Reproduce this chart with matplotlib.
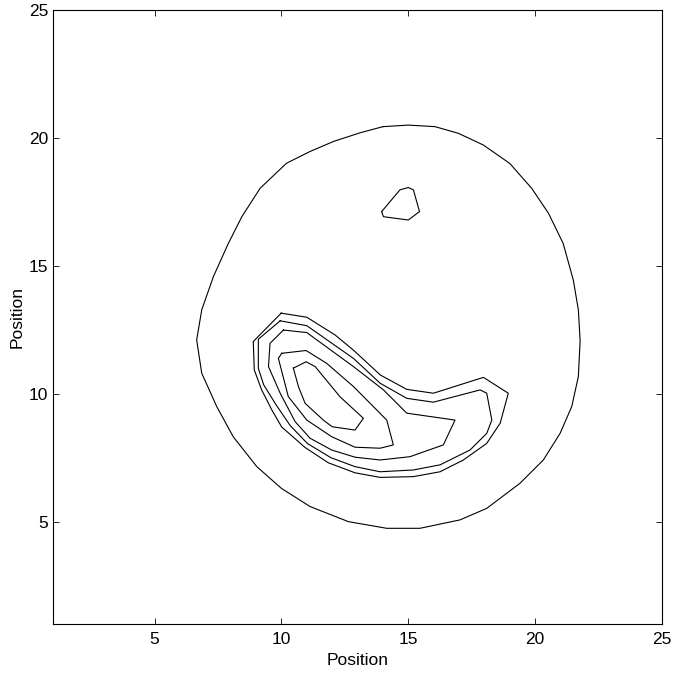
import matplotlib

matplotlib.use("Agg")
import matplotlib.pyplot as plt

# contour level paths (x, y) in grid units
outer_x = [14.0, 15.0, 16.05, 16.97, 17.96, 19.0, 19.86, 20.52, 21.1, 21.5, 21.7, 21.77, 21.7, 21.44,
           20.98, 20.32, 19.4, 18.09, 17.04, 15.46, 14.15, 12.64, 11.13, 10.0, 9.03, 8.1, 7.45, 6.86,
           6.66, 6.86, 7.32, 7.91, 8.44, 9.16, 10.2, 11.13, 12.05, 13.1, 14.0]
outer_y = [20.44, 20.5, 20.44, 20.18, 19.72, 19.0, 18.03, 17.06, 15.88, 14.45, 13.28, 12.08, 10.67, 9.5,
           8.45, 7.41, 6.5, 5.52, 5.07, 4.74, 4.74, 5.0, 5.59, 6.3, 7.15, 8.32, 9.5, 10.8,
           12.1, 13.28, 14.58, 15.88, 16.92, 18.03, 19.01, 19.47, 19.86, 20.2, 20.44]

peak_x = [13.95, 14.67, 15.0, 15.2, 15.44, 15.0, 14.02, 13.95]
peak_y = [17.12, 17.97, 18.06, 17.97, 17.12, 16.79, 16.92, 17.12]

band1_x = [9.99, 11.0, 12.11, 12.83, 13.9, 14.94, 15.99, 17.96, 18.94, 18.62, 18.09, 17.17, 16.25,
           15.2, 13.89, 12.9, 11.85, 10.93, 10.01, 9.62, 9.22, 8.93, 8.89, 9.99]
band1_y = [13.15, 12.99, 12.3, 11.71, 10.73, 10.17, 10.02, 10.64, 10.02, 8.85, 8.06, 7.41, 6.95,
           6.76, 6.73, 6.91, 7.3, 7.9, 8.7, 9.37, 10.15, 10.93, 12.04, 13.15]

band2_x = [9.95, 11.0, 12.84, 13.89, 14.94, 15.99, 17.83, 18.09, 18.29, 18.09, 17.43, 16.25, 15.2,
           13.89, 12.9, 11.95, 11.03, 10.35, 9.8, 9.3, 9.09, 9.09, 9.95]
band2_y = [12.85, 12.66, 11.38, 10.41, 9.82, 9.67, 10.15, 10.02, 8.97, 8.45, 7.8, 7.22, 7.02,
           6.95, 7.15, 7.5, 8.05, 8.75, 9.55, 10.35, 10.99, 12.13, 12.85]

band3_x = [10.08, 11.0, 12.84, 14.02, 14.94, 16.84, 16.38, 15.07, 13.89, 12.9, 11.98, 11.13, 10.54,
           9.95, 9.49, 9.55, 10.08]
band3_y = [12.49, 12.39, 11.06, 10.15, 9.24, 8.97, 8.0, 7.54, 7.41, 7.52, 7.8, 8.26, 8.91,
           10.02, 11.06, 11.97, 12.49]

band4_x = [10.01, 10.97, 11.78, 12.84, 14.15, 14.41, 13.89, 12.9, 11.98, 11.0, 10.27, 9.88, 10.01]
band4_y = [11.58, 11.69, 11.19, 10.28, 8.97, 8.0, 7.87, 7.91, 8.32, 8.97, 9.89, 11.38, 11.58]

band5_x = [10.47, 10.97, 11.33, 12.31, 13.23, 12.9, 12.0, 11.65, 10.93, 10.67, 10.47]
band5_y = [11.0, 11.25, 11.06, 9.88, 9.04, 8.58, 8.71, 8.97, 9.63, 10.28, 11.0]

paths = [
    (outer_x, outer_y),
    (peak_x, peak_y),
    (band1_x, band1_y),
    (band2_x, band2_y),
    (band3_x, band3_y),
    (band4_x, band4_y),
    (band5_x, band5_y),
]

plt.rcParams["font.family"] = ["Liberation Sans", "DejaVu Sans"]

fig = plt.figure(figsize=(6.73, 6.74), dpi=100)
ax = fig.add_axes([0.0788, 0.0742, 0.905, 0.911])

for xs, ys in paths:
    ax.plot(xs, ys, color="black", linewidth=0.8)

ax.set_xlim(1, 25)
ax.set_ylim(1, 25)
ax.set_xticks([5, 10, 15, 20, 25])
ax.set_yticks([5, 10, 15, 20, 25])
ax.tick_params(direction="in", length=4.5, width=0.6, top=True, right=True, labelsize=12.5)
ax.tick_params(axis="x", pad=6)
ax.tick_params(axis="y", pad=3.5)
for spine in ax.spines.values():
    spine.set_linewidth(0.8)

ax.set_xlabel("Position", fontsize=12.5, labelpad=4)
ax.set_ylabel("Position", fontsize=12.5, labelpad=3)

plt.savefig("out.png", dpi=100)
plt.close()
